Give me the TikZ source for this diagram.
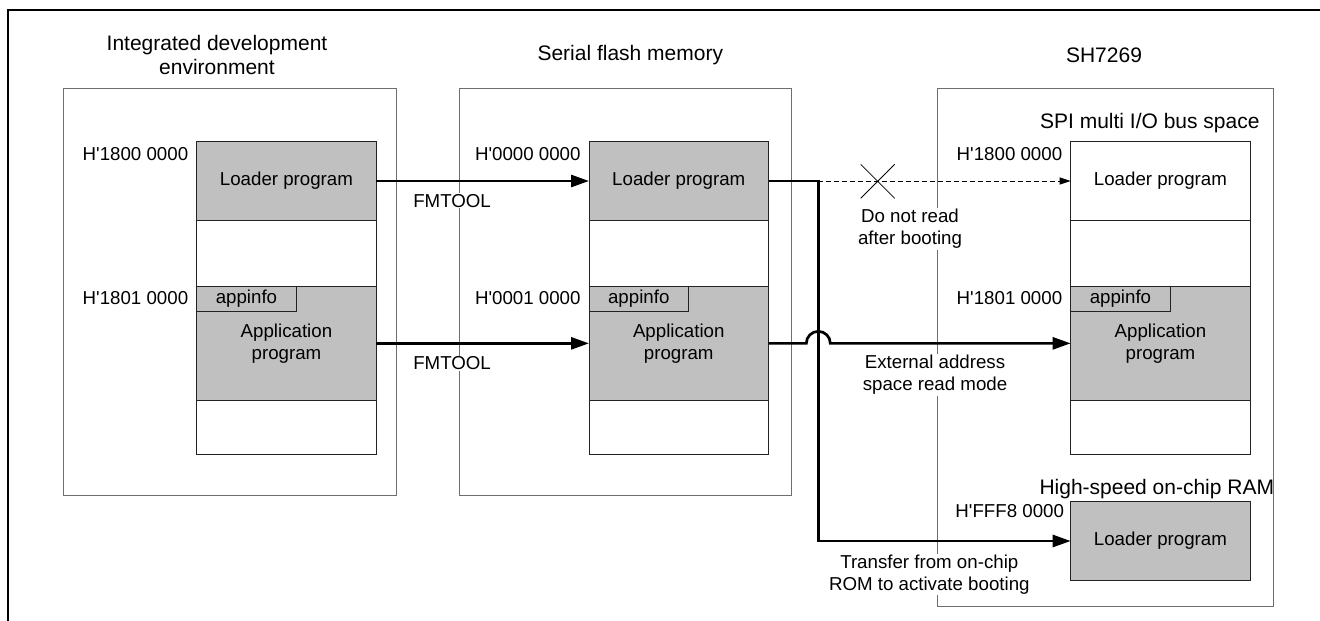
\documentclass[tikz,border=0pt]{standalone}
\usepackage{fontspec}
\setmainfont{Liberation Sans}[Ligatures=TeXOff]
\usetikzlibrary{arrows.meta}
\definecolor{memfill}{HTML}{C0C0C0}
\definecolor{boxline}{HTML}{6E6E6E}
\definecolor{colline}{HTML}{222222}

% one memory map column: #1 name prefix, #2 left x, #3 style of the loader block
\newcommand\memcolumn[3]{%
  \node[col, minimum width=179.5, minimum height=312.3] (#1Col) at (#2,141.7) {};
  \node[#3, minimum width=179.5, minimum height=78.6] (#1Load) at (#2,141.7) {Loader program};
  \node[blk, minimum width=179.5, minimum height=114.7] (#1App) at (#2,286) {Application\\program};
  \node[blk, minimum width=99.5, minimum height=25] (#1Info) at (#2,286) {appinfo};
}

\begin{document}
\begin{tikzpicture}[x=1pt, y=-1pt,
  txt/.style={font=\fontsize{18.7}{22}\selectfont, inner sep=0pt, outer sep=0pt},
  ttl/.style={font=\fontsize{21}{24.4}\selectfont, align=center, inner sep=0pt},
  lbl/.style={txt, align=center, fill=white, inner sep=1pt},
  chip/.style={draw=boxline, line width=1pt, anchor=north west, inner sep=0pt, outer sep=0pt},
  col/.style={draw=colline, line width=1pt, fill=white, anchor=north west, inner sep=0pt, outer sep=0pt},
  blk/.style={col, fill=memfill, font=\fontsize{18.7}{22}\selectfont, align=center},
  wblk/.style={blk, fill=white},
  bigarrow/.style={line width=2.7pt, line join=miter, -{Triangle[length=18pt, width=12pt]}},
  dasharrow/.style={line width=1pt, dash pattern=on 5pt off 3pt, -{Triangle[length=11pt, width=7pt]}},
]
\useasboundingbox (0,0) rectangle (1320,621);

% page frame
\draw[line width=2pt] (8,621) -- (8,10) -- (1320,10);

% titles
\node[ttl] (ideTitle) at (217,55) {Integrated development\\environment};
\node[ttl] (sfTitle) at (630.3,55.5) {Serial flash memory};
\node[ttl] (shTitle) at (1104,55) {SH7269};

% outer boxes
\node[chip, minimum width=332.5, minimum height=407.7] (ideBox) at (63.5,88) {};
\node[chip, minimum width=332.4, minimum height=407.7] (sfBox) at (459.3,88) {};
\node[chip, minimum width=336, minimum height=518.7] (shBox) at (937.7,88) {};

% memory columns
\memcolumn{ide}{196.7}{blk}
\memcolumn{sf}{589}{blk}
\memcolumn{sh}{1070.7}{wblk}

\node[ttl, anchor=base east] (spiTitle) at (1259.7,128.3) {SPI multi I/O bus space};

% on-chip RAM
\node[ttl, anchor=base east] (ramTitle) at (1274.3,494.3) {High-speed on-chip RAM};
\node[blk, minimum width=179.5, minimum height=78.6] (ram) at (1070.7,501.7) {Loader program};

% addresses
\node[txt, anchor=east] (ideAdrA) at (188.2,154) {H'1800 0000};
\node[txt, anchor=east] (ideAdrB) at (188.2,297.7) {H'1801 0000};
\node[txt, anchor=east] (sfAdrA) at (580.5,154) {H'0000 0000};
\node[txt, anchor=east] (sfAdrB) at (580.5,297.7) {H'0001 0000};
\node[txt, anchor=east] (shAdrA) at (1062.2,154) {H'1800 0000};
\node[txt, anchor=east] (shAdrB) at (1062.2,297.7) {H'1801 0000};
\node[txt, anchor=east] (ramAdr) at (1064,510.7) {H'FFF8 0000};

% writing with FMTOOL
\draw[bigarrow] (ideLoad.east) -- (sfLoad.west);
\draw[bigarrow] (ideApp.east) -- (sfApp.west);
\node[txt, fill=white, inner sep=1pt, anchor=west] (fmA) at (412.3,200.7) {FMTOOL};
\node[txt, fill=white, inner sep=1pt, anchor=west] (fmB) at (412.3,363.3) {FMTOOL};

% boot transfer to on-chip RAM
\coordinate (jx) at (818.3,0);
\draw[bigarrow] (sfLoad.east) -- (sfLoad.east -| jx) -- (jx |- ram.west) -- (ram.west);

% loader is not read from the bus space after booting
\draw[dasharrow] (sfLoad.east -| jx) -- (shLoad.west);
\coordinate (cross) at (877.7,181.3);
\draw[line width=0.8pt] (cross) +(-17,-17) -- +(17,17) (cross) +(-17,17) -- +(17,-17);

% application read in external address space read mode
\coordinate (hopL) at (806.3,0);
\draw[bigarrow] (sfApp.east) -- (sfApp.east -| hopL)
  arc[start angle=180, end angle=360, radius=12] -- (shApp.west);

% connector labels
\node[lbl] (noRead) at (910,229) {Do not read\\after booting};
\node[lbl] (extRead) at (935,375) {External address\\space read mode};
\node[lbl] (xfer) at (929.3,574.5) {Transfer from on-chip\\ROM to activate booting};
\end{tikzpicture}
\end{document}
